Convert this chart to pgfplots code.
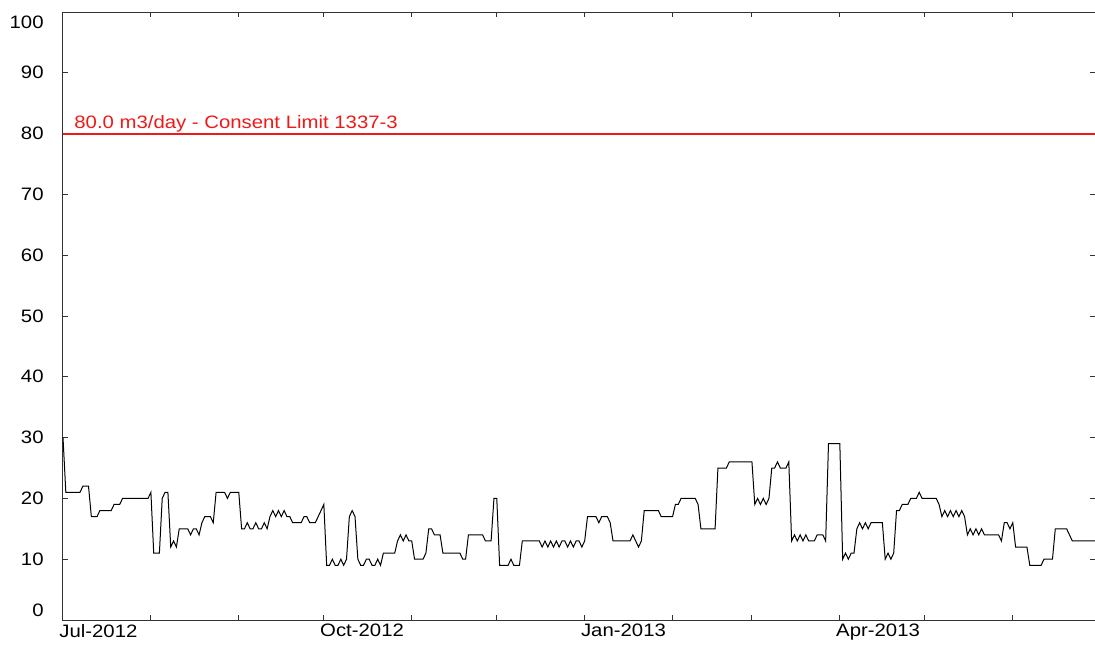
\documentclass[border=0pt]{standalone}
\usepackage{pgfplots}
\pgfplotsset{compat=1.18}
\usepackage{fontspec}
\setmainfont[FakeStretch=1.13]{Liberation Sans}
\definecolor{limitred}{RGB}{240,25,25}
\begin{document}
\begin{tikzpicture}
\begin{axis}[
  scale only axis, width=516pt, height=304pt,
  xmin=0, xmax=364, ymin=0, ymax=100,
  xtick={0,31,62,92,123,153,184,215,243,274,304,335},
  xticklabels={Jul-2012,,,Oct-2012,,,Jan-2013,,,Apr-2013,,},
  xticklabel style={anchor=north west, xshift=-2pt, yshift=-2pt, inner sep=0pt},
  ytick={0,10,...,100},
  yticklabels={,10,20,30,40,50,60,70,80,90,},
  yticklabel style={anchor=east, inner sep=0pt, xshift=-9.5pt},
  tick align=inside, major tick length=2.5pt,
  axis line style={line width=0.5pt, black!80},
  tick style={line width=0.5pt, black!80},
  font=\fontsize{9}{11}\selectfont,
  /pgf/number format/assume math mode=true,
  clip=false,
]
\addplot[limitred, line width=0.9pt, mark=none] table {
x y
0 80
364 80
};
\addplot[draw=black, line width=0.5pt, mark=none] coordinates {
(0,30) (1,21) (6,21) (7,22) (9,22) (10,17) (12,17) (13,18) (17,18) (18,19) (20,19) (21,20) (30,20) (31,21) (32,11) (34,11) (35,20) (36,21) (37,21) (38,12) (39,13) (40,12) (41,15) (44,15) (45,14) (46,15) (47,15) (48,14) (49,16) (50,17) (52,17) (53,16) (54,21) (57,21) (58,20) (59,21) (62,21) (63,15) (64,15) (65,16) (66,15) (67,15) (68,16) (69,15) (70,15) (71,16) (72,15) (73,17) (74,18) (75,17) (76,18) (77,17) (78,18) (79,17) (80,17) (81,16) (84,16) (85,17) (86,17) (87,16) (89,16) (92,19) (93,9) (94,9) (95,10) (96,9) (97,9) (98,10) (99,9) (100,10) (101,17) (102,18) (103,17) (104,10) (105,9) (106,9) (107,10) (108,10) (109,9) (110,9) (111,10) (112,9) (113,11) (117,11) (118,13) (119,14) (120,13) (121,14) (122,13) (123,13) (124,10) (127,10) (128,11) (129,15) (130,15) (131,14) (133,14) (134,11) (140,11) (141,10) (142,10) (143,14) (148,14) (149,13) (151,13) (152,20) (153,20) (154,9) (157,9) (158,10) (159,9) (161,9) (162,13) (168,13) (169,12) (170,13) (171,12) (172,13) (173,12) (174,13) (175,12) (176,13) (177,13) (178,12) (179,13) (180,12) (181,13) (182,13) (183,12) (184,13) (185,17) (188,17) (189,16) (190,17) (192,17) (193,16) (194,13) (200,13) (201,14) (202,13) (203,12) (204,13) (205,18) (210,18) (211,17) (215,17) (216,19) (217,19) (218,20) (223,20) (224,19) (225,15) (230,15) (231,25) (234,25) (235,26) (243,26) (244,19) (245,20) (246,19) (247,20) (248,19) (249,20) (250,25) (251,25) (252,26) (253,25) (255,25) (256,26) (257,13) (258,14) (259,13) (260,14) (261,13) (262,14) (263,13) (265,13) (266,14) (268,14) (269,13) (270,29) (274,29) (275,10) (276,11) (277,10) (278,11) (279,11) (280,15) (281,16) (282,15) (283,16) (284,15) (285,16) (289,16) (290,10) (291,11) (292,10) (293,11) (294,18) (295,18) (296,19) (298,19) (299,20) (301,20) (302,21) (303,20) (308,20) (309,19) (310,17) (311,18) (312,17) (313,18) (314,17) (315,18) (316,17) (317,18) (318,17) (319,14) (320,15) (321,14) (322,15) (323,14) (324,15) (325,14) (330,14) (331,13) (332,16) (333,16) (334,15) (335,16) (336,12) (340,12) (341,9) (345,9) (346,10) (349,10) (350,15) (354,15) (356,13) (364,13)
};
\node[text=limitred, anchor=base west, inner sep=0pt, xshift=5.5pt, yshift=2.4pt] at (axis cs:0,80) {80.0 m3/day - Consent Limit 1337-3};
\node[anchor=east, inner sep=0pt, xshift=-9.5pt, yshift=5pt] at (rel axis cs:0,0) {0};
\node[anchor=east, inner sep=0pt, xshift=-9.5pt, yshift=-5pt] at (rel axis cs:0,1) {100};
\end{axis}
\pgfresetboundingbox
\path[use as bounding box] ([xshift=-31.5pt,yshift=-15pt]current axis.south west) rectangle ([yshift=6pt]current axis.north east);
\end{tikzpicture}
\end{document}
